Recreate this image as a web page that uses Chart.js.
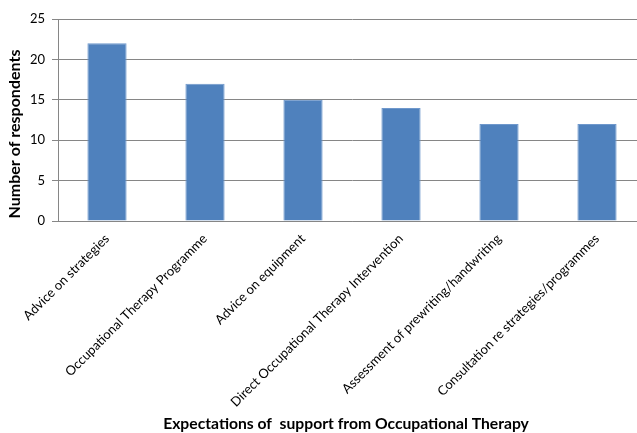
<!DOCTYPE html>
<html>
<head>
<meta charset="utf-8">
<script src="https://cdn.jsdelivr.net/npm/chart.js@4/dist/chart.umd.min.js"></script>
<style>
  html, body { margin: 0; padding: 0; background: #fff; overflow: hidden; }
  #wrap { width: 646px; height: 433px; }
</style>
</head>
<body>
<div id="wrap"><canvas id="c" width="646" height="433"></canvas></div>
<script>
// Survey responses: what support respondents expect from Occupational Therapy
const categories = [
  "Advice on strategies",
  "Occupational Therapy Programme",
  "Advice on equipment",
  "Direct Occupational Therapy Intervention",
  "Assessment of prewriting/handwriting",
  "Consultation re strategies/programmes"
];
const respondents = [22, 17, 15, 14, 12, 12];
const yTicks = [0, 5, 10, 15, 20, 25];

const xTitle = "Expectations of  support from Occupational Therapy";
const yTitle = "Number of respondents";

const FONT = "Lato, 'Open Sans', sans-serif";

// Axis titles drawn by hand so they can sit where the layout wants them
const axisTitles = {
  id: "axisTitles",
  afterDraw(chart) {
    const ctx = chart.ctx;
    ctx.save();
    ctx.fillStyle = "#000";
    ctx.textAlign = "center";
    ctx.textBaseline = "middle";
    ctx.font = "bold 15.7px " + FONT;
    ctx.fillText(xTitle, 346, 424);
    ctx.translate(15, 134);
    ctx.rotate(-Math.PI / 2);
    ctx.font = "bold 16px " + FONT;
    ctx.fillText(yTitle, 0, 0);
    ctx.restore();
  }
};

new Chart(document.getElementById("c"), {
  type: "bar",
  data: {
    labels: categories,
    datasets: [{
      data: respondents,
      backgroundColor: "#4F81BD",
      borderColor: "#6f98cc",
      borderWidth: 1,
      barPercentage: 0.4,
      categoryPercentage: 1.0
    }]
  },
  plugins: [axisTitles],
  options: {
    responsive: false,
    animation: false,
    devicePixelRatio: 1,
    layout: { padding: { top: 19, left: 0, right: 0, bottom: 2 } },
    plugins: {
      legend: { display: false },
      tooltip: { enabled: false }
    },
    scales: {
      x: {
        grid: { display: false, drawTicks: false },
        border: { display: true, color: "#868686", width: 1 },
        ticks: {
          color: "#000",
          font: { family: FONT, size: 13 },
          maxRotation: 45,
          minRotation: 45,
          padding: 10,
          autoSkip: false
        },
        title: { display: false },
        afterFit: (s) => { s.height = 210; }
      },
      y: {
        min: 0,
        max: 25,
        afterBuildTicks: (s) => { s.ticks = yTicks.map(v => ({ value: v })); },
        grid: { color: "#868686", lineWidth: 1, tickLength: 6, drawTicks: true },
        border: { display: true, color: "#868686", width: 1 },
        ticks: {
          color: "#000",
          font: { family: FONT, size: 13 },
          padding: 7
        },
        title: { display: false },
        afterFit: (s) => { s.width = 58; }
      }
    }
  }
});
</script>
</body>
</html>
